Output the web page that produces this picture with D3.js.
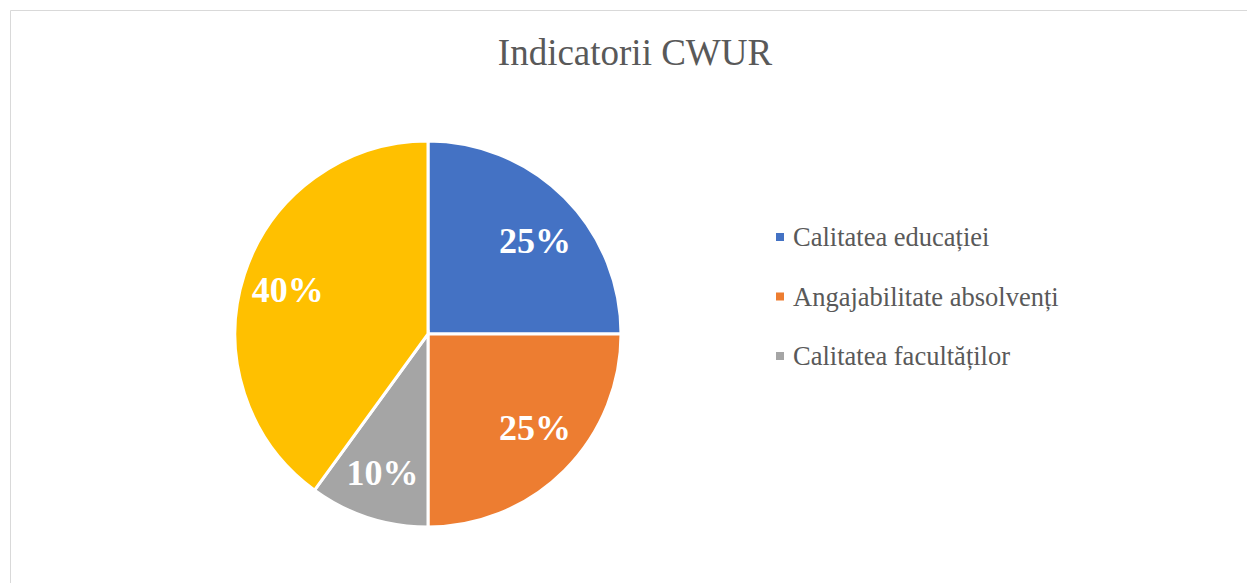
<!DOCTYPE html>
<html>
<head>
<meta charset="utf-8">
<script src="https://cdn.jsdelivr.net/npm/d3@7"></script>
<style>
  body { margin: 0; background: #fff; }
</style>
</head>
<body>
<svg width="1247" height="583"></svg>
<script>
const categories = ["Calitatea educației", "Angajabilitate absolvenți", "Calitatea facultăților", "Alți indicatori"];
const values = [25, 25, 10, 40];
const colors = ["#4472C4", "#ED7D31", "#A5A5A5", "#FFC000"];
const legendCount = 3; // only the first three appear in the legend

const svg = d3.select("svg");
const width = +svg.attr("width");
const height = +svg.attr("height");

// chart area border (right & bottom are cut off)
svg.append("path")
    .attr("d", `M10.5,${height} L10.5,10.5 L${width},10.5`)
    .attr("fill", "none")
    .attr("stroke", "#d9d9d9")
    .attr("stroke-width", 1);

svg.append("text")
    .attr("x", 635)
    .attr("y", 65)
    .attr("text-anchor", "middle")
    .attr("font-family", "Liberation Serif, Times New Roman, serif")
    .attr("font-size", 37)
    .attr("fill", "#595959")
    .text("Indicatorii CWUR");

const cx = 428, cy = 334, r = 193;

const pie = d3.pie().sort(null).value(d => d.value);
const data = pie(categories.map((c, i) => ({name: c, value: values[i], color: colors[i]})));

const arc = d3.arc().innerRadius(0).outerRadius(r);
const labelArc = d3.arc().innerRadius(147).outerRadius(147);

const g = svg.append("g").attr("transform", `translate(${cx},${cy})`);

g.selectAll("path")
    .data(data)
    .join("path")
    .attr("d", arc)
    .attr("fill", d => d.data.color)
    .attr("stroke", "#fff")
    .attr("stroke-width", 3);

g.selectAll("text")
    .data(data)
    .join("text")
    .attr("transform", d => {
        const [x, y] = labelArc.centroid(d);
        // labels near the diagonals sit a bit flatter (Excel best fit)
        const mid = (d.startAngle + d.endAngle) / 2;
        const s = Math.pow(Math.abs(Math.sin(2 * mid)), 4);
        return `translate(${x * (1 + 0.03 * s)},${y * (1 - 0.1 * s)})`;
    })
    .attr("text-anchor", "middle")
    .attr("dy", "0.35em")
    .attr("font-family", "Liberation Serif, Times New Roman, serif")
    .attr("font-weight", "bold")
    .attr("font-size", 36)
    .attr("fill", "#fff")
    .text(d => d.data.value + "%");

// legend
const legend = svg.append("g")
    .selectAll("g")
    .data(data.slice(0, legendCount))
    .join("g")
    .attr("transform", (d, i) => `translate(776,${237 + i * 59.5})`);

legend.append("rect")
    .attr("x", 0)
    .attr("y", -4)
    .attr("width", 8)
    .attr("height", 8)
    .attr("fill", d => d.data.color);

legend.append("text")
    .attr("x", 17)
    .attr("dy", "0.35em")
    .attr("font-family", "Liberation Serif, Times New Roman, serif")
    .attr("font-size", 26.5)
    .attr("fill", "#595959")
    .text(d => d.data.name);
</script>
</body>
</html>
